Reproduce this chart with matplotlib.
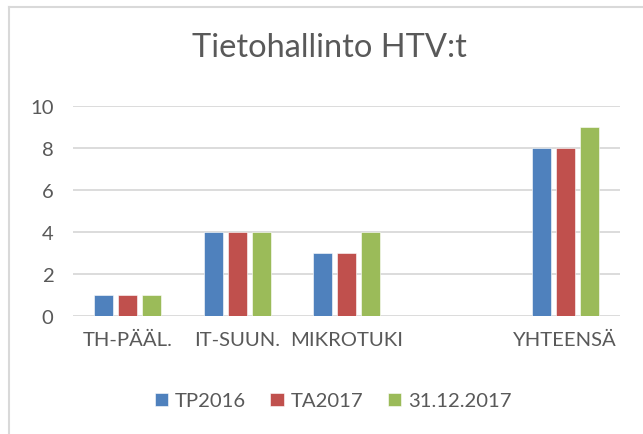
import matplotlib.pyplot as plt
import numpy as np
from matplotlib.lines import Line2D

categories = ["TH-PÄÄL.", "IT-SUUN.", "MIKROTUKI", "", "YHTEENSÄ"]
series_names = ["TP2016", "TA2017", "31.12.2017"]
tp2016 = [1, 4, 3, np.nan, 8]
ta2017 = [1, 4, 3, np.nan, 8]
dec2017 = [1, 4, 4, np.nan, 9]
colors = ["#4F81BD", "#C0504D", "#9BBB59"]
yticks = [0, 2, 4, 6, 8, 10]

plt.rcParams["font.family"] = ["Lato", "DejaVu Sans"]
text_color = "#595959"

fig = plt.figure(figsize=(6.43, 4.35), dpi=100)
W, H = 643, 435
ax = fig.add_axes([73 / W, 1 - 317 / H, (620 - 73) / W, (317 - 107) / H])

x = np.arange(len(categories))
width = 0.174
step = 0.22
for i, (vals, name) in enumerate(zip([tp2016, ta2017, dec2017], series_names)):
    ax.bar(x + (i - 1) * step, vals, width, color=colors[i], label=name,
           zorder=3, edgecolor="white", linewidth=0.4)

ax.set_xlim(-0.5, len(categories) - 0.5)
ax.set_ylim(0, 10)
ax.set_yticks(yticks)
ax.set_xticks(x)
ax.set_xticklabels(categories)
ax.tick_params(axis="both", length=0, labelsize=14.6, colors=text_color)
ax.tick_params(axis="y", pad=14)
ax.tick_params(axis="x", pad=11)
ax.grid(axis="y", color="#D9D9D9", linewidth=1.3, zorder=0)
for s in ax.spines.values():
    s.set_visible(False)

fig.text(329 / W, 1 - 48 / H, "Tietohallinto HTV:t", ha="center", va="center",
         fontsize=23.5, color=text_color)

leg = fig.legend(loc="center", bbox_to_anchor=(333 / W, 1 - 402 / H), ncol=3,
                 frameon=False, fontsize=14.6, handlelength=0.65, handleheight=0.65,
                 handletextpad=0.35, columnspacing=1.2)
for t in leg.get_texts():
    t.set_color(text_color)

# chart frame (left and top edges visible)
fig.add_artist(Line2D([9 / W, 9 / W], [0, 1 - 8 / H], color="#D9D9D9", linewidth=1.5))
fig.add_artist(Line2D([9 / W, 1], [1 - 8 / H, 1 - 8 / H], color="#D9D9D9", linewidth=1.5))

fig.savefig("out.png", dpi=100)
